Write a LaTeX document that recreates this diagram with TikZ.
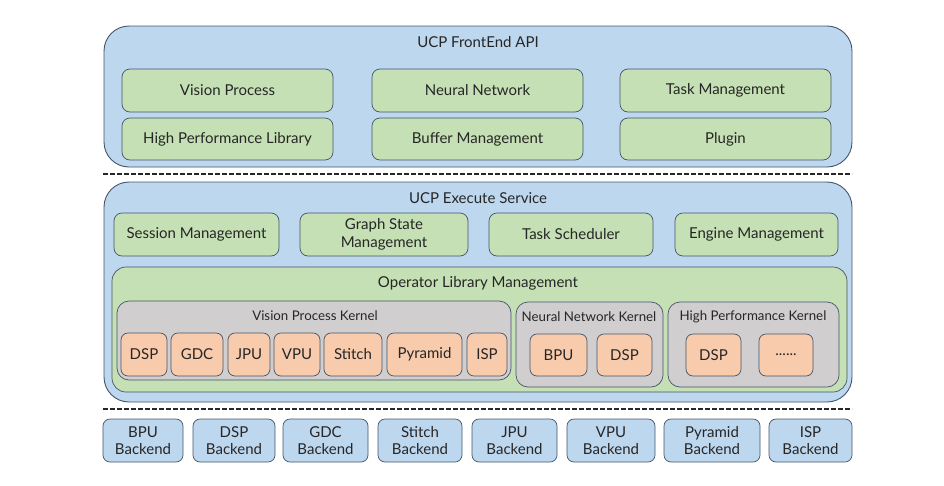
\documentclass[tikz,border=0pt]{standalone}
\usepackage{fontspec}
\setmainfont{Lato}
\definecolor{bfill}{HTML}{BDD7EE}
\definecolor{gfill}{HTML}{C5E0B4}
\definecolor{ofill}{HTML}{F8CBAD}
\definecolor{kfill}{HTML}{D0CECE}
\definecolor{edge}{HTML}{44546A}
\definecolor{txt}{HTML}{262626}
\tikzset{
  box/.style={draw=edge, line width=0.7pt, inner sep=0pt, text=txt, font=\fontsize{15}{17.5}\selectfont, align=center},
  frame/.style={box, fill=bfill, rounded corners=25pt, line width=0.9pt},
  gbox/.style={box, fill=gfill, rounded corners=8pt},
  gframe/.style={box, fill=gfill, rounded corners=14pt},
  kframe/.style={box, fill=kfill, rounded corners=12pt},
  obox/.style={box, fill=ofill, rounded corners=7pt},
  bbox/.style={box, fill=bfill, rounded corners=7pt},
  ttl/.style={text=txt, font=\fontsize{15}{17}\selectfont, inner sep=0pt},
  kttl/.style={text=txt, font=\fontsize{13.3}{15}\selectfont, inner sep=0pt},
  sep/.style={line width=1.1pt, dash pattern=on 5pt off 2pt, draw=black!85},
}
\newcommand{\bx}[7]{%
  \pgfmathsetmacro{\bxw}{#4-#2}\pgfmathsetmacro{\bxh}{#5-#3}%
  \pgfmathsetmacro{\bxcx}{(#2+#4)/2}\pgfmathsetmacro{\bxcy}{(#3+#5)/2}%
  \node[#6, minimum width=\bxw pt, minimum height=\bxh pt] (#1) at (\bxcx,\bxcy) {#7};}
\begin{document}
\begin{tikzpicture}[x=1pt,y=-1pt]
\useasboundingbox (0,0) rectangle (944,485);
% FrontEnd
\bx{fe}{104}{26}{852}{167}{frame}{}
\node[ttl] (fet) at (478,42) {UCP FrontEnd API};
\bx{vp}{122}{69}{333}{112}{gbox}{Vision Process}
\bx{nn}{372}{69}{583}{112}{gbox}{Neural Network}
\bx{tm}{620}{69}{831}{112}{gbox}{Task Management}
\bx{hpl}{122}{118}{333}{160}{gbox}{High Performance Library}
\bx{bm}{372}{118}{583}{160}{gbox}{Buffer Management}
\bx{pl}{620}{118}{831}{160}{gbox}{Plugin}
\coordinate (d1a) at (103,174);
\coordinate (d1b) at (852,174);
\draw[sep] (d1a) -- (d1b);
% Execute
\bx{ex}{104}{182}{852}{402}{frame}{}
\node[ttl] (ext) at (478,198) {UCP Execute Service};
\bx{sm}{114}{213}{279}{256}{gbox}{Session Management}
\bx{gs}{300}{213}{468}{256}{gbox}{Graph State\\Management}
\bx{ts}{489}{213}{653}{256}{gbox}{Task Scheduler}
\bx{em}{675}{213}{838}{256}{gbox}{Engine Management}
\bx{olm}{112}{267}{847}{392}{gframe}{}
\node[ttl] (olmt) at (478,283) {Operator Library Management};
\bx{vpk}{117}{301}{511}{380}{kframe}{}
\node[kttl] (vpkt) at (315,316) {Vision Process Kernel};
\bx{k1}{121}{333}{167}{376}{obox}{DSP}
\bx{k2}{171}{333}{223}{376}{obox}{GDC}
\bx{k3}{228}{333}{270}{376}{obox}{JPU}
\bx{k4}{274}{333}{320}{376}{obox}{VPU}
\bx{k5}{324}{333}{382}{376}{obox}{Stitch}
\bx{k6}{387}{333}{462}{376}{obox}{Pyramid}
\bx{k7}{467}{333}{507}{376}{obox}{ISP}
\bx{nnk}{516}{302}{663}{387}{kframe}{}
\node[kttl] (nnkt) at (589,317) {Neural Network Kernel};
\bx{n1}{530}{334}{587}{376}{obox}{BPU}
\bx{n2}{597}{334}{652}{376}{obox}{DSP}
\bx{hpk}{668}{302}{839}{387}{kframe}{}
\node[kttl] (hpkt) at (753,317) {High Performance Kernel};
\bx{h1}{686}{334}{741}{376}{obox}{DSP}
\bx{h2}{759}{334}{813}{376}{obox}{......}
\coordinate (d2a) at (103,409);
\coordinate (d2b) at (852,409);
\draw[sep] (d2a) -- (d2b);
% Backends
\bx{b1}{103}{419}{183}{462}{bbox}{BPU\\Backend}
\bx{b2}{193}{419}{275}{462}{bbox}{DSP\\Backend}
\bx{b3}{283}{419}{368}{462}{bbox}{GDC\\Backend}
\bx{b4}{378}{419}{462}{462}{bbox}{Stitch\\Backend}
\bx{b5}{472}{419}{557}{462}{bbox}{JPU\\Backend}
\bx{b6}{567}{419}{655}{462}{bbox}{VPU\\Backend}
\bx{b7}{664}{419}{760}{462}{bbox}{Pyramid\\Backend}
\bx{b8}{769}{419}{852}{462}{bbox}{ISP\\Backend}
\end{tikzpicture}
\end{document}
